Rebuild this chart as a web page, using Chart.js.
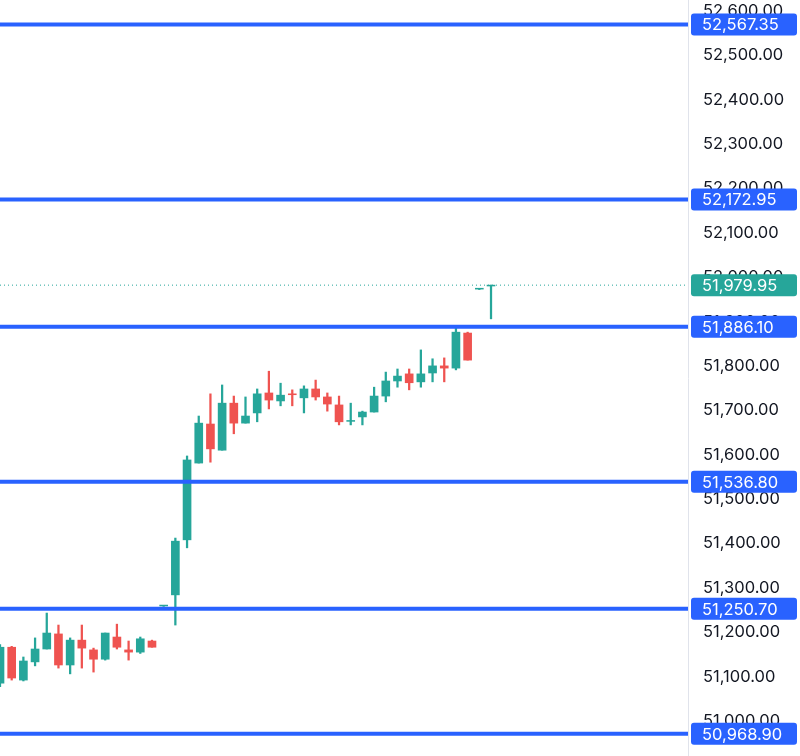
<!DOCTYPE html>
<html><head><meta charset="utf-8">
<script src="https://cdn.jsdelivr.net/npm/chart.js@4"></script>
<style>html,body{margin:0;padding:0;background:#fff}#w{width:800px;height:756px}</style>
</head><body><div id="w"><canvas id="c"></canvas></div>
<script>
const opens  = [51083,51164,51090,51131,51160,51194,51124,51180,51158,51137,51187,51158,51153,51178,51257,51282,51406,51579,51667,51608,51714,51669,51692,51737,51719,51735,51726,51746,51728,51710,51673,51683,51694,51730,51764,51780,51762,51782,51798,51793,51872,51971,51978];
const highs  = [51170,51166,51142,51185,51241,51214,51185,51214,51162,51196,51216,51178,51187,51180,51258,51410,51595,51685,51735,51755,51730,51728,51746,51786,51759,51744,51753,51766,51737,51730,51714,51696,51750,51784,51791,51791,51834,51814,51816,51886,51874,51972,51980];
const lows   = [51075,51090,51088,51122,51160,51117,51104,51117,51108,51135,51160,51135,51150,51164,51256,51214,51388,51579,51581,51608,51645,51669,51672,51701,51708,51708,51692,51721,51696,51665,51665,51665,51694,51717,51750,51744,51750,51762,51762,51789,51811,51970,51904];
const closes = [51164,51094.6,51133,51160,51196,51124,51180,51162,51137,51196,51164,51153,51183,51164,51257,51403,51586,51669,51611,51714,51669,51685,51735,51721,51732,51733,51746,51728,51712,51672,51675,51694,51730,51764,51775,51760,51780,51798,51793,51874,51811,51971,51980];
const levels = [52567.35,52172.95,51886.10,51536.80,51250.70,50968.90];
const lastPrice = 51979.95;
const yTicks = [51000,51100,51200,51300,51400,51500,51600,51700,51800,51900,52000,52100,52200,52300,52400,52500,52600];

const UP='#26a69a', DN='#ef5350', BLUE='#2962ff';
const FONT='16.5px Inter, "DejaVu Sans", sans-serif';
const col = opens.map((o,i)=>closes[i]>=o?UP:DN);
const bodies = opens.map((o,i)=>({x:i,y:[Math.min(o,closes[i]),Math.max(o,closes[i])+(Math.abs(o-closes[i])<2?2:0)]}));
const wicks = opens.map((o,i)=>({x:i,y:[lows[i],highs[i]]}));
const fmt = v=>v.toLocaleString('en-US',{minimumFractionDigits:2,maximumFractionDigits:2});

const overlay = {
  id:'overlay',
  afterDatasetsDraw(ch){
    const ctx=ch.ctx, y=ch.scales.y, a=ch.chartArea;
    ctx.save();
    ctx.strokeStyle=UP; ctx.lineWidth=1; ctx.setLineDash([1,3]);
    let py=y.getPixelForValue(lastPrice);
    ctx.beginPath(); ctx.moveTo(0,py); ctx.lineTo(a.right,py); ctx.stroke();
    ctx.setLineDash([]);
    ctx.strokeStyle=BLUE; ctx.lineWidth=4;
    levels.forEach(v=>{const p=y.getPixelForValue(v);ctx.beginPath();ctx.moveTo(0,p);ctx.lineTo(a.right,p);ctx.stroke();});
    ctx.restore();
  },
  afterDraw(ch){
    const ctx=ch.ctx, y=ch.scales.y, a=ch.chartArea;
    ctx.save();
    ctx.font=FONT; ctx.textBaseline='middle';
    ctx.fillStyle='#131722';
    yTicks.forEach(v=>ctx.fillText(fmt(v),a.right+15,y.getPixelForValue(v)+1));
    const box=(v,c)=>{const p=y.getPixelForValue(v);
      ctx.fillStyle=c; ctx.beginPath(); ctx.roundRect(a.right+3,p-11,106,22,3); ctx.fill();
      ctx.fillStyle='#fff'; ctx.fillText(fmt(v),a.right+14,p+1);};
    levels.forEach(v=>box(v,BLUE));
    box(lastPrice,UP);
    ctx.restore();
  }
};

new Chart(document.getElementById('c'),{
  type:'bar',
  data:{datasets:[
    {data:wicks,backgroundColor:col,barThickness:1.6,grouped:false,order:2},
    {data:bodies,backgroundColor:col,barThickness:8,grouped:false,order:1}
  ]},
  options:{
    responsive:true,maintainAspectRatio:false,animation:false,
    layout:{padding:0},
    plugins:{legend:{display:false},tooltip:{enabled:false}},
    scales:{
      x:{type:'linear',min:0,max:58.85,display:false,offset:false},
      y:{position:'right',min:50918.9,max:52622.5,
        afterFit(s){s.width=112;s.paddingTop=0;s.paddingBottom=0;},
        grid:{display:false,drawTicks:false},
        border:{display:true,color:'#e0e3eb'},
        ticks:{display:false}
      }
    }
  },
  plugins:[overlay]
});
</script></body></html>
